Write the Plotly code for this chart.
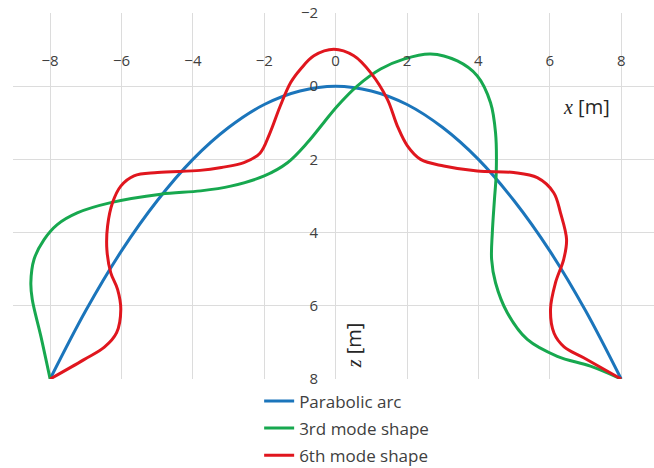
import plotly.graph_objects as go

# Parabolic arc
arc_x = [-8, -7, -6, -5, -4, -3, -2, -1, 0, 1, 2, 3, 4, 5, 6, 7, 8]
arc_z = [8.0, 6.13, 4.5, 3.13, 2.0, 1.13, 0.5, 0.13, 0.0, 0.13, 0.5, 1.13, 2.0, 3.13, 4.5, 6.13, 8.0]

# 3rd mode shape
m3_x = [-8.0, -8.26, -8.5, -8.54, -8.45, -8.17, -7.8, -7.24, -6.3, -4.9, -3.78, -2.94, -2.0, -1.35,
        -0.79, -0.33, 0.05, 0.61, 1.26, 1.91, 2.66, 3.41, 3.97, 4.34, 4.48, 4.5, 4.45, 4.39, 4.37,
        4.48, 4.81, 5.37, 6.21, 7.14, 8.0]
m3_z = [8.0, 6.83, 5.83, 5.37, 4.73, 4.19, 3.78, 3.46, 3.18, 2.95, 2.86, 2.73, 2.45, 2.09,
        1.54, 0.99, 0.54, -0.01, -0.47, -0.74, -0.88, -0.69, -0.28, 0.45, 1.27, 2.36, 3.09, 4.0, 4.73,
        5.37, 6.19, 6.92, 7.38, 7.65, 8.0]

# 6th mode shape
m6_x = [-8.0, -7.05, -6.48, -6.14, -6.02, -6.11, -6.3, -6.41, -6.39, -6.25, -6.02, -5.65, -4.99,
        -3.8, -3.2, -2.57, -2.12, -1.85, -1.56, -1.26, -0.98, -0.61, -0.05, 0.51, 0.98, 1.45,
        1.73, 2.01, 2.38, 3.03, 3.97, 4.99, 5.65, 6.11, 6.3, 6.47, 6.39, 6.16, 6.02, 6.12, 6.4,
        6.95, 8.0]
m6_z = [8.0, 7.47, 7.13, 6.74, 6.1, 5.55, 5.1, 4.46, 3.82, 3.18, 2.73, 2.45, 2.36,
        2.3, 2.22, 2.09, 1.83, 1.3, 0.56, -0.1, -0.47, -0.83, -1.01, -0.83, -0.37, 0.36,
        1.09, 1.63, 2.0, 2.18, 2.32, 2.36, 2.5, 2.91, 3.46, 4.19, 4.73, 5.37, 6.1, 6.75, 7.12,
        7.42, 8.0]

tick_vals_x = [-8, -6, -4, -2, 0, 2, 4, 6, 8]
tick_vals_z = [-2, 0, 2, 4, 6, 8]

fig = go.Figure()
series = [
    ("Parabolic arc", arc_x, arc_z, "#1B75BB"),
    ("3rd mode shape", m3_x, m3_z, "#17A84F"),
    ("6th mode shape", m6_x, m6_z, "#E0161E"),
]
for name, xs, zs, col in series:
    fig.add_trace(go.Scatter(x=xs, y=zs, name=name, mode="lines", legendgroup=name,
                             line=dict(color=col, width=3, shape="spline", smoothing=1.0)))

tickfont = dict(family="Open Sans", size=15, color="#404040")
fig.update_layout(
    width=654, height=468,
    margin=dict(l=13, r=0, t=13, b=89, autoexpand=False),
    paper_bgcolor="white", plot_bgcolor="white",
    showlegend=True,
    legend=dict(x=0.384, y=-0.012, xanchor="left", yanchor="top", itemwidth=30,
                font=dict(family="Open Sans", size=17, color="#404040"),
                bgcolor="rgba(0,0,0,0)", tracegroupgap=2),
    xaxis=dict(range=[-9.04, 8.92], tickvals=tick_vals_x, showgrid=True, gridcolor="#DCDCDC",
               gridwidth=1, zeroline=False, showline=False, ticks="", side="top",
               anchor="free", position=0.846, tickfont=tickfont, automargin=False),
    yaxis=dict(range=[8, -2], tickvals=tick_vals_z, showgrid=True, gridcolor="#DCDCDC",
               gridwidth=1, zeroline=False, showline=False, ticks="", side="left",
               anchor="free", position=0.476, tickfont=tickfont, automargin=False),
)
fig.add_annotation(text="<span style='font-family:Liberation Serif'><i>x</i></span> [m]",
                   x=(586 - 335) / 35.7, y=(107 - 87) / 36.55, xref="x", yref="y",
                   showarrow=False, font=dict(family="Open Sans", size=20, color="#262626"))
fig.add_annotation(text="<span style='font-family:Liberation Serif'><i>z</i></span> [m]",
                   x=(353 - 335) / 35.7, y=(346 - 87) / 36.55, xref="x", yref="y",
                   textangle=-90, showarrow=False,
                   font=dict(family="Open Sans", size=20, color="#262626"))

fig.write_html("out.html", config={"displayModeBar": False},
               post_script="document.body.style.margin='0';")
